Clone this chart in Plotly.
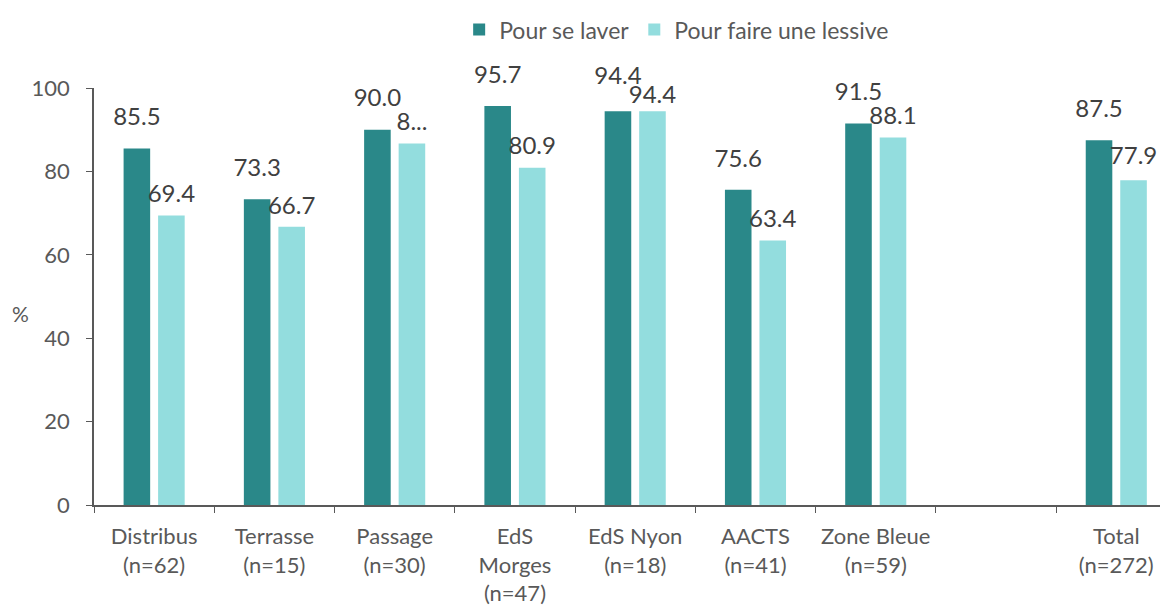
import plotly.graph_objects as go

categories = ["Distribus<br>(n=62)", "Terrasse<br>(n=15)", "Passage<br>(n=30)",
              "EdS<br>Morges<br>(n=47)", "EdS Nyon<br>(n=18)", "AACTS<br>(n=41)",
              "Zone Bleue<br>(n=59)", " ", "Total<br>(n=272)"]
se_laver = [85.5, 73.3, 90.0, 95.7, 94.4, 75.6, 91.5, None, 87.5]
lessive = [69.4, 66.7, 86.7, 80.9, 94.4, 63.4, 88.1, None, 77.9]
lessive_labels = ["69.4", "66.7", "8...", "80.9", "94.4", "63.4", "88.1", "", "77.9"]
series_names = ["Pour se laver", "Pour faire une lessive"]

DARK = "#2A8889"
LIGHT = "#93DDDE"
TXT = "#404040"
AXT = "#595959"
FONT = "Lato"
GAP = 0.426

def fmt(v):
    return "" if v is None else f"{v:.1f}"

fig = go.Figure()
fig.add_trace(go.Bar(x=categories, y=se_laver, name=series_names[0], offsetgroup="a",
                     marker=dict(color=DARK, line=dict(width=0))))
fig.add_trace(go.Bar(x=categories, y=lessive, name=series_names[1], offsetgroup="b",
                     marker=dict(color=LIGHT, line=dict(width=0))))
# data labels (invisible markers give the label gap above each bar)
fig.add_trace(go.Scatter(x=categories, y=se_laver, mode="markers+text", offsetgroup="a",
                         text=[fmt(v) for v in se_laver], textposition="top center",
                         marker=dict(size=[26, 26, 26, 26, 32, 26, 26, 26, 26], opacity=0),
                         showlegend=False, hoverinfo="skip",
                         textfont=dict(size=24, color=TXT, family=FONT), cliponaxis=False))
fig.add_trace(go.Scatter(x=categories, y=lessive, mode="markers+text", offsetgroup="b",
                         text=lessive_labels, textposition="top center",
                         marker=dict(size=[10, 10, 10, 10, 2, 10, 10, 10, 14], opacity=0),
                         showlegend=False, hoverinfo="skip",
                         textfont=dict(size=24, color=TXT, family=FONT), cliponaxis=False))

fig.update_layout(
    width=1160, height=597,
    margin=dict(l=86, r=0, t=76, b=100),
    paper_bgcolor="white", plot_bgcolor="white",
    font=dict(family=FONT, size=21, color=AXT),
    barmode="group", bargap=GAP, bargroupgap=0.23,
    scattermode="group", scattergap=GAP,
    showlegend=True,
    legend=dict(orientation="h", x=0.34, xanchor="left", y=1.14, yanchor="middle",
                font=dict(size=23, color=AXT, family=FONT), itemwidth=30,
                traceorder="normal", bgcolor="rgba(0,0,0,0)"),
)
fig.update_xaxes(type="category", categoryorder="array", categoryarray=categories,
                 range=[-0.5, 8.43], tickson="boundaries", ticks="outside", ticklen=6,
                 tickcolor=AXT, showline=True, linecolor=AXT, linewidth=1.5,
                 showgrid=False, zeroline=False, tickfont=dict(size=22, color=AXT, family=FONT),
                 tickangle=0, ticklabelstandoff=11)
fig.update_yaxes(range=[0, 100], tickvals=[0, 20, 40, 60, 80, 100], ticks="outside",
                 ticklen=6, tickcolor=AXT, showline=True, linecolor=AXT,
                 linewidth=1.5, showgrid=False, zeroline=False,
                 tickfont=dict(size=22, color=AXT, family=FONT), ticklabelstandoff=12)
fig.add_annotation(text="%", xref="paper", yref="paper", x=-0.068, y=0.459,
                   xanchor="center", showarrow=False,
                   font=dict(size=21, color=AXT, family=FONT))

fig.write_html("out.html")
